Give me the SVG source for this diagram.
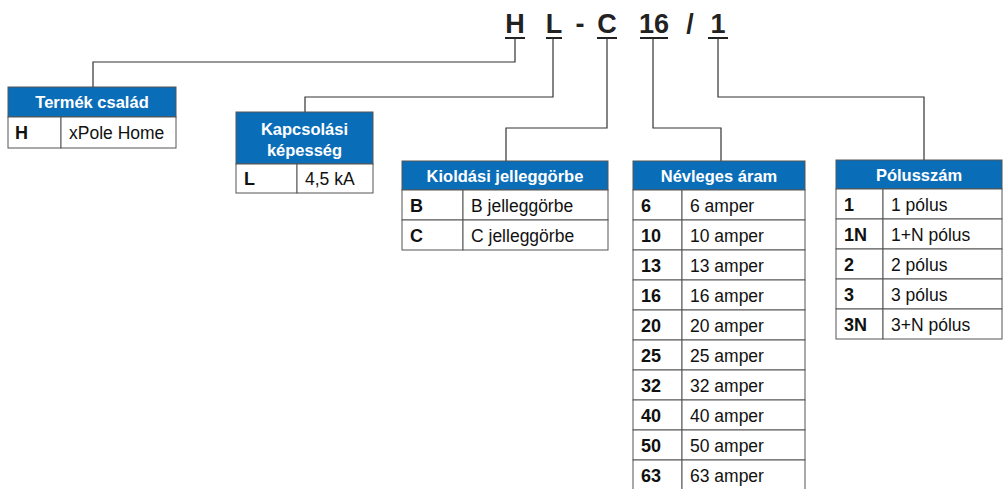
<svg xmlns="http://www.w3.org/2000/svg" width="1004" height="489" viewBox="0 0 1004 489">
<style>
.hd{fill:#0a6db8;stroke:#555;stroke-width:1}
.cell{fill:#fff;stroke:#555;stroke-width:1}
.ht{font-family:"Liberation Sans",Arial,sans-serif;font-weight:bold;font-size:16.5px;fill:#fff;text-anchor:middle}
.k{font-family:"Liberation Sans",Arial,sans-serif;font-weight:bold;font-size:18px;fill:#111}
.v{font-family:"Liberation Sans",Arial,sans-serif;font-size:17.5px;fill:#111}
.ti{font-family:"Liberation Sans",Arial,sans-serif;font-weight:bold;font-size:27px;fill:#222;text-anchor:middle}
.ln{fill:none;stroke:#333;stroke-width:1.2}
.ul{stroke:#222;stroke-width:2}
</style>
<g id="title">
<text class="ti" x="515" y="33">H</text>
<text class="ti" x="554" y="33">L</text>
<text class="ti" x="580" y="33">-</text>
<text class="ti" x="607" y="33">C</text>
<text class="ti" x="654" y="33">16</text>
<text class="ti" x="690" y="33">/</text>
<text class="ti" x="718" y="33">1</text>
<line class="ul" x1="505" y1="38" x2="525" y2="38"/>
<line class="ul" x1="546" y1="38" x2="562" y2="38"/>
<line class="ul" x1="597" y1="38" x2="617" y2="38"/>
<line class="ul" x1="640" y1="38" x2="668" y2="38"/>
<line class="ul" x1="708" y1="38" x2="728" y2="38"/>
</g>
<g id="connectors">
<polyline class="ln" points="515,38 515,62 93,62 93,87"/>
<polyline class="ln" points="553,38 553,97 305,97 305,112"/>
<polyline class="ln" points="607,38 607,128 506,128 506,161"/>
<polyline class="ln" points="653,38 653,128 721,128 721,161"/>
<polyline class="ln" points="718,38 718,97 924,97 924,160"/>
</g>
<g id="termek">
<rect class="hd" x="8" y="87" width="168" height="30"/>
<text class="ht" x="92" y="108">Termék család</text>
<rect class="cell" x="8" y="117" width="53" height="31"/>
<rect class="cell" x="61" y="117" width="115" height="31"/>
<text class="k" x="15" y="139">H</text>
<text class="v" x="69" y="139">xPole Home</text>
</g>
<g id="kapcsolasi">
<rect class="hd" x="236" y="112" width="137" height="52"/>
<text class="ht" x="304.5" y="135">Kapcsolási</text>
<text class="ht" x="304.5" y="156">képesség</text>
<rect class="cell" x="236" y="164" width="61" height="29"/>
<rect class="cell" x="297" y="164" width="76" height="29"/>
<text class="k" x="244" y="185">L</text>
<text class="v" x="305" y="185">4,5 kA</text>
</g>
<g id="kioldasi">
<rect class="hd" x="402" y="161" width="206" height="29"/>
<text class="ht" x="505" y="182">Kioldási jelleggörbe</text>
<rect class="cell" x="402" y="190" width="61" height="30"/>
<rect class="cell" x="463" y="190" width="145" height="30"/>
<rect class="cell" x="402" y="220" width="61" height="30"/>
<rect class="cell" x="463" y="220" width="145" height="30"/>
<text class="k" x="410" y="212">B</text>
<text class="v" x="471" y="212">B jelleggörbe</text>
<text class="k" x="410" y="242">C</text>
<text class="v" x="471" y="242">C jelleggörbe</text>
</g>
<g id="nevleges">
<rect class="hd" x="633" y="161" width="172" height="29"/>
<text class="ht" x="719" y="182">Névleges áram</text>
<g>
<rect class="cell" x="633" y="190" width="49" height="30"/><rect class="cell" x="682" y="190" width="123" height="30"/>
<rect class="cell" x="633" y="220" width="49" height="30"/><rect class="cell" x="682" y="220" width="123" height="30"/>
<rect class="cell" x="633" y="250" width="49" height="30"/><rect class="cell" x="682" y="250" width="123" height="30"/>
<rect class="cell" x="633" y="280" width="49" height="30"/><rect class="cell" x="682" y="280" width="123" height="30"/>
<rect class="cell" x="633" y="310" width="49" height="30"/><rect class="cell" x="682" y="310" width="123" height="30"/>
<rect class="cell" x="633" y="340" width="49" height="30"/><rect class="cell" x="682" y="340" width="123" height="30"/>
<rect class="cell" x="633" y="370" width="49" height="30"/><rect class="cell" x="682" y="370" width="123" height="30"/>
<rect class="cell" x="633" y="400" width="49" height="30"/><rect class="cell" x="682" y="400" width="123" height="30"/>
<rect class="cell" x="633" y="430" width="49" height="30"/><rect class="cell" x="682" y="430" width="123" height="30"/>
<rect class="cell" x="633" y="460" width="49" height="30"/><rect class="cell" x="682" y="460" width="123" height="30"/>
</g>
<text class="k" x="641" y="212">6</text><text class="v" x="690" y="212">6 amper</text>
<text class="k" x="641" y="242">10</text><text class="v" x="690" y="242">10 amper</text>
<text class="k" x="641" y="272">13</text><text class="v" x="690" y="272">13 amper</text>
<text class="k" x="641" y="302">16</text><text class="v" x="690" y="302">16 amper</text>
<text class="k" x="641" y="332">20</text><text class="v" x="690" y="332">20 amper</text>
<text class="k" x="641" y="362">25</text><text class="v" x="690" y="362">25 amper</text>
<text class="k" x="641" y="392">32</text><text class="v" x="690" y="392">32 amper</text>
<text class="k" x="641" y="422">40</text><text class="v" x="690" y="422">40 amper</text>
<text class="k" x="641" y="452">50</text><text class="v" x="690" y="452">50 amper</text>
<text class="k" x="641" y="482">63</text><text class="v" x="690" y="482">63 amper</text>
</g>
<g id="polusszam">
<rect class="hd" x="836" y="160" width="166" height="29"/>
<text class="ht" x="919" y="181">Pólusszám</text>
<rect class="cell" x="836" y="189" width="47" height="30"/><rect class="cell" x="883" y="189" width="119" height="30"/>
<rect class="cell" x="836" y="219" width="47" height="30"/><rect class="cell" x="883" y="219" width="119" height="30"/>
<rect class="cell" x="836" y="249" width="47" height="30"/><rect class="cell" x="883" y="249" width="119" height="30"/>
<rect class="cell" x="836" y="279" width="47" height="30"/><rect class="cell" x="883" y="279" width="119" height="30"/>
<rect class="cell" x="836" y="309" width="47" height="30"/><rect class="cell" x="883" y="309" width="119" height="30"/>
<text class="k" x="844" y="211">1</text><text class="v" x="891" y="211">1 pólus</text>
<text class="k" x="844" y="241">1N</text><text class="v" x="891" y="241">1+N pólus</text>
<text class="k" x="844" y="271">2</text><text class="v" x="891" y="271">2 pólus</text>
<text class="k" x="844" y="301">3</text><text class="v" x="891" y="301">3 pólus</text>
<text class="k" x="844" y="331">3N</text><text class="v" x="891" y="331">3+N pólus</text>
</g>
</svg>
